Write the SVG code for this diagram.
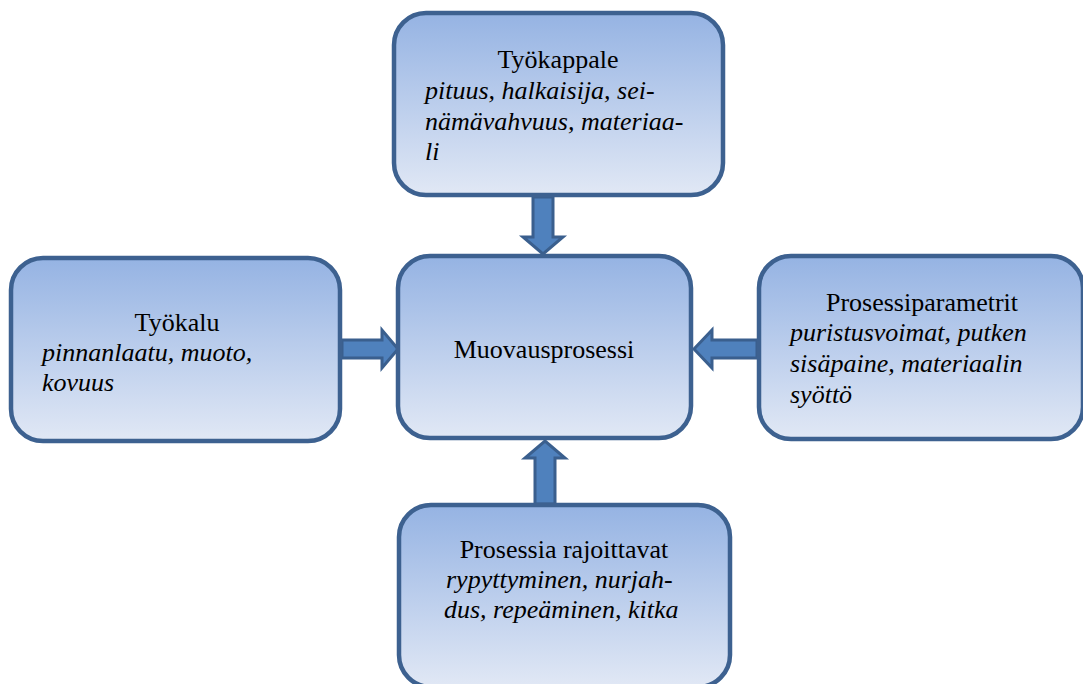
<svg xmlns="http://www.w3.org/2000/svg" width="1083" height="684" viewBox="0 0 1083 684">
<defs>
<linearGradient id="g" x1="0" y1="0" x2="0" y2="1">
<stop offset="0" stop-color="#95b3e3"/>
<stop offset="1" stop-color="#e1e8f5"/>
</linearGradient>
<style>
.box{fill:url(#g);stroke:#3d6190;stroke-width:4.5}
.arr{fill:#4f81bd;stroke:#3a5f8e;stroke-width:3;stroke-linejoin:miter}
.t{font-family:"Liberation Serif","Times New Roman",serif;font-size:26px;fill:#000}
.c{text-anchor:middle}
.i{font-style:italic}
</style>
</defs>
<rect width="1083" height="684" fill="#fff"/>
<g id="connectors">
<polygon class="arr" points="533,197 553,197 553,237 563,237 543,254 523,237 533,237"/>
<polygon class="arr" points="535,504 555,504 555,458 565,458 545,441 525,458 535,458"/>
<polygon class="arr" points="342,340 382,340 382,330 398,349 382,368 382,358 342,358"/>
<polygon class="arr" points="757,340 712,340 712,330 694,349 712,368 712,358 757,358"/>
</g>
<g id="tyokappale">
<rect class="box" x="394" y="13" width="329" height="182" rx="32"/>
<text class="t c" x="558" y="68">Työkappale</text>
<text class="t i" x="425" y="99">pituus, halkaisija, sei-</text>
<text class="t i" x="425" y="130">nämävahvuus, materiaa-</text>
<text class="t i" x="425" y="160">li</text>
</g>
<g id="tyokalu">
<rect class="box" x="11" y="258" width="329" height="183" rx="32"/>
<text class="t c" x="177" y="331">Työkalu</text>
<text class="t i" x="42" y="361">pinnanlaatu, muoto,</text>
<text class="t i" x="42" y="391">kovuus</text>
</g>
<g id="muovausprosessi">
<rect class="box" x="398" y="256" width="293" height="182" rx="32"/>
<text class="t c" x="544" y="358">Muovausprosessi</text>
</g>
<g id="prosessiparametrit">
<rect class="box" x="759" y="256" width="324" height="183" rx="32"/>
<text class="t c" x="922" y="311">Prosessiparametrit</text>
<text class="t i" x="790" y="341">puristusvoimat, putken</text>
<text class="t i" x="790" y="372">sisäpaine, materiaalin</text>
<text class="t i" x="790" y="403">syöttö</text>
</g>
<g id="rajoittavat">
<rect class="box" x="399" y="505" width="331" height="182" rx="32"/>
<text class="t c" x="564" y="558">Prosessia rajoittavat</text>
<text class="t i" x="446" y="588">rypyttyminen, nurjah-</text>
<text class="t i" x="444" y="618">dus, repeäminen, kitka</text>
</g>
</svg>
